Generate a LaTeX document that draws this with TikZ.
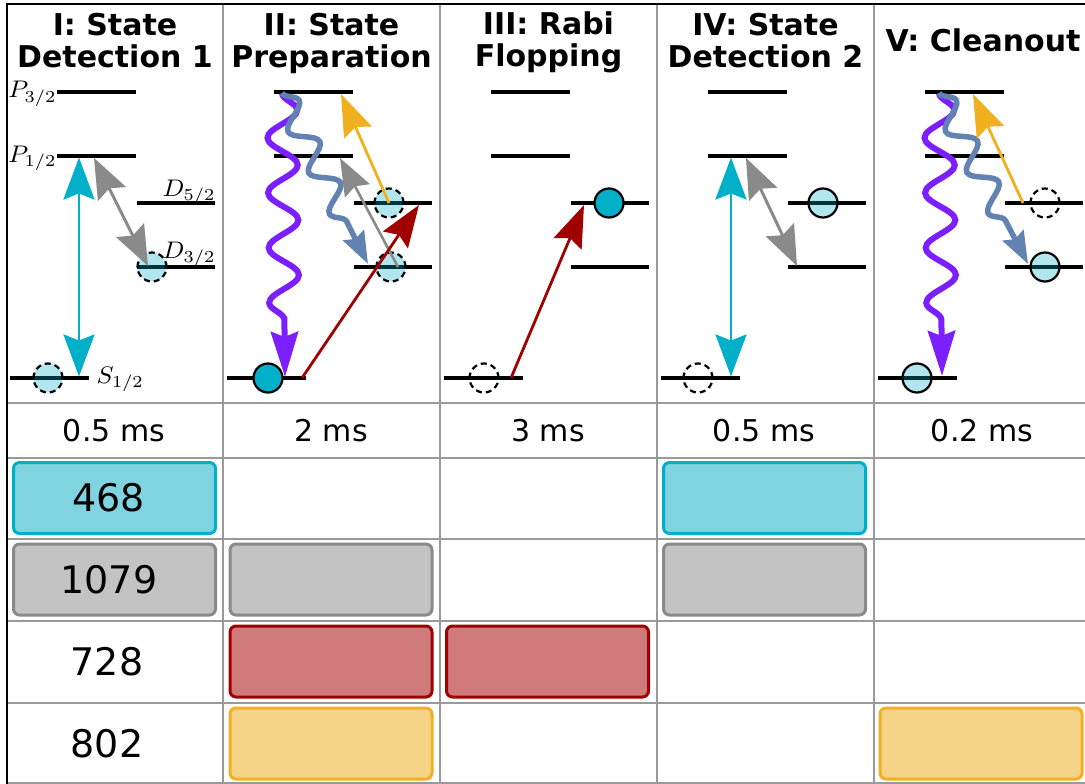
\documentclass[tikz,border=0pt]{standalone}
\usepackage{fontspec}
\setmainfont{DejaVu Sans}
\usetikzlibrary{arrows.meta,decorations.pathmorphing}
\definecolor{cyanA}{HTML}{00AFC8}
\definecolor{cyanBox}{HTML}{80D4E0}
\definecolor{grayA}{HTML}{8A8A8A}
\definecolor{grayBox}{HTML}{C3C3C3}
\definecolor{redA}{HTML}{A00000}
\definecolor{redBox}{HTML}{CF7B7B}
\definecolor{yelA}{HTML}{F0B020}
\definecolor{yelBox}{HTML}{F5D487}
\definecolor{purA}{HTML}{7B1FFF}
\definecolor{bluA}{HTML}{6282B2}
\definecolor{gridc}{HTML}{9A9A9A}
\newcommand\mylevels{%
  \draw[lvl] (57,92) -- (136,92);
  \draw[lvl] (57,156) -- (136,156);
  \draw[lvl] (137,203) -- (215,203);
  \draw[lvl] (137,267) -- (215,267);
  \draw[lvl] (10,378) -- (89,378);
}
\begin{document}
\begin{tikzpicture}[x=1pt,y=-1pt,
  gridline/.style={draw=gridc, line width=1.4pt},
  frame/.style={draw=black, line width=2.2pt},
  lvl/.style={line width=3.2pt, black},
  ionbase/.style={circle, minimum size=29pt, inner sep=0pt, line width=2.2pt, draw=black},
  ionL/.style={ionbase, fill=cyanA, fill opacity=0.3},
  ionD/.style={ionbase, fill=cyanA},
  dsh/.style={dash pattern=on 6pt off 4pt},
  cyanar/.style={draw=cyanA, line width=2.8pt,
    {Stealth[length=42pt,width=31pt,inset=6pt]}-{Stealth[length=42pt,width=31pt,inset=6pt]}},
  grayar2/.style={draw=grayA, line width=3pt,
    {Stealth[length=40pt,width=31pt,inset=6pt]}-{Stealth[length=40pt,width=31pt,inset=6pt]}},
  grayar/.style={draw=grayA, line width=2.6pt, -{Stealth[length=37pt,width=28pt,inset=5pt]}},
  redar/.style={draw=redA, line width=2.8pt, -{Stealth[length=42pt,width=30pt,inset=6pt]}},
  yelar/.style={draw=yelA, line width=2.8pt, -{Stealth[length=42pt,width=30pt,inset=6pt]}},
  purar/.style={draw=purA, line width=6pt, decorate,
    decoration={snake, amplitude=15pt, segment length=55pt, post length=50pt},
    -{Stealth[length=45pt,width=27pt,inset=5pt]}},
  bluar/.style={draw=bluA, line width=5.5pt, decorate,
    decoration={snake, amplitude=12pt, segment length=46pt, post length=34pt},
    -{Stealth[length=32pt,width=23pt,inset=4pt]}},
  title/.style={font=\fontsize{30}{32}\selectfont\bfseries, align=center, inner sep=0pt},
  dur/.style={font=\fontsize{30}{36}\selectfont, anchor=base, inner sep=0pt},
  rowlab/.style={font=\fontsize{38}{44}\selectfont, anchor=base, inner sep=0pt},
  lab/.style={inner sep=0pt, xscale=2.55, yscale=2.4, transform shape},
  box/.style={rounded corners=6pt, line width=3pt, minimum width=202pt, minimum height=71pt, inner sep=0pt},
]
\useasboundingbox (0,0) rectangle (1085,784);
\clip (0,0) rectangle (1085,784);
\fill[white] (0,0) rectangle (1085,784);
% grid
\foreach \x in {223,440,657,874} \draw[gridline] (\x,4) -- (\x,790);
\foreach \y in {403,458,539,621,703,783} \draw[gridline] (7,\y) -- (1095,\y);
\draw[frame] (7,790) -- (7,4) -- (1095,4);
% titles
\node[title, anchor=north] (t1) at (115,13) {I: State\\Detection 1};
\node[title, anchor=north] (t2) at (331.5,13) {II: State\\Preparation};
\node[title, anchor=north] (t3) at (548.5,12) {III: Rabi\\Flopping};
\node[title, anchor=north] (t4) at (765.5,13) {IV: State\\Detection 2};
\node[title, anchor=base] (t5) at (983,52) {V: Cleanout};
% durations
\node[dur] (d1) at (114,441) {0.5 ms};
\node[dur] (d2) at (331,441) {2 ms};
\node[dur] (d3) at (548,441) {3 ms};
\node[dur] (d4) at (764,441) {0.5 ms};
\node[dur] (d5) at (982,441) {0.2 ms};
% boxes
\node[box, fill=cyanBox, draw=cyanA] (b1a) at (114.5,498) {};
\node[box, fill=cyanBox, draw=cyanA] (b4a) at (764.5,498) {};
\node[box, fill=grayBox, draw=grayA] (b1b) at (114.5,579.5) {};
\node[box, fill=grayBox, draw=grayA] (b2b) at (331,579.5) {};
\node[box, fill=grayBox, draw=grayA] (b4b) at (764.5,579.5) {};
\node[box, fill=redBox, draw=redA] (b2c) at (331,661.5) {};
\node[box, fill=redBox, draw=redA] (b3c) at (547.5,661.5) {};
\node[box, fill=yelBox, draw=yelA] (b2d) at (331,743.5) {};
\node[box, fill=yelBox, draw=yelA] (b5d) at (981,743.5) {};
% row labels
\node[rowlab] (r1) at (108.5,511.5) {468};
\node[rowlab] (r2) at (109,593.5) {1079};
\node[rowlab] (r3) at (107,675.5) {728};
\node[rowlab] (r4) at (107,757.5) {802};
% ---------- Panel I
\begin{scope}
\mylevels
\node[lab, anchor=base east] (lP3) at (57,98) {$P_{3/2}$};
\node[lab, anchor=base east] (lP1) at (57,162) {$P_{1/2}$};
\node[lab, anchor=base east] (lD5) at (216,196) {$D_{5/2}$};
\node[lab, anchor=base east] (lD3) at (216,258) {$D_{3/2}$};
\node[lab, anchor=base west] (lS) at (96,383) {$S_{1/2}$};
\node[ionL, dsh] (c1s) at (48,378) {};
\node[ionL, dsh] (c1d3) at (152,267) {};
\coordinate (a1p) at (79,157.5);
\coordinate (a1s) at (79,376.5);
\coordinate (g1p) at (94,158);
\coordinate (g1d) at (148,266);
\draw[cyanar] (a1p) -- (a1s);
\draw[grayar2] (g1p) -- (g1d);
\end{scope}
% ---------- Panel II
\begin{scope}[xshift=217pt]
\mylevels
\node[ionD] (c2s) at (51,378) {};
\node[ionL, dsh] (c2d5) at (172,203) {};
\node[ionL, dsh] (c2d3) at (174,267) {};
\coordinate (w2top) at (65,93);
\coordinate (w2s) at (68,377);
\coordinate (w2d3) at (151,264);
\coordinate (g2d3) at (181,267);
\coordinate (g2p1) at (123,158);
\coordinate (y2d5) at (172,203);
\coordinate (y2p3) at (124,94);
\coordinate (r2s) at (85,378);
\coordinate (r2d5) at (202,205);
\draw[purar] (w2top) -- (w2s);
\draw[bluar] (w2top) -- (w2d3);
\draw[grayar] (g2d3) -- (g2p1);
\draw[yelar] (y2d5) -- (y2p3);
\draw[redar] (r2s) -- (r2d5);
\end{scope}
% ---------- Panel III
\begin{scope}[xshift=434pt]
\mylevels
\node[ionbase, dsh] (c3s) at (50,378) {};
\node[ionD] (c3d5) at (175,203) {};
\coordinate (r3s) at (77,378);
\coordinate (r3d5) at (150,205);
\draw[redar] (r3s) -- (r3d5);
\end{scope}
% ---------- Panel IV
\begin{scope}[xshift=651pt]
\mylevels
\node[ionbase, dsh] (c4s) at (47,378) {};
\node[ionL] (c4d5) at (172,203) {};
\coordinate (a4p) at (80,157.5);
\coordinate (a4s) at (80,376.5);
\coordinate (g4p) at (95,158);
\coordinate (g4d) at (146,266);
\draw[cyanar] (a4p) -- (a4s);
\draw[grayar2] (g4p) -- (g4d);
\end{scope}
% ---------- Panel V
\begin{scope}[xshift=868pt]
\mylevels
\node[ionbase, dsh] (c5d5) at (177,203) {};
\node[ionL] (c5d3) at (177,267) {};
\node[ionL] (c5s) at (49,378) {};
\coordinate (w5top) at (71,93);
\coordinate (w5s) at (74,376);
\coordinate (w5d3) at (160,264);
\coordinate (y5d5) at (155,203);
\coordinate (y5p3) at (105,94);
\draw[purar] (w5top) -- (w5s);
\draw[bluar] (w5top) -- (w5d3);
\draw[yelar] (y5d5) -- (y5p3);
\end{scope}
\end{tikzpicture}
\end{document}
